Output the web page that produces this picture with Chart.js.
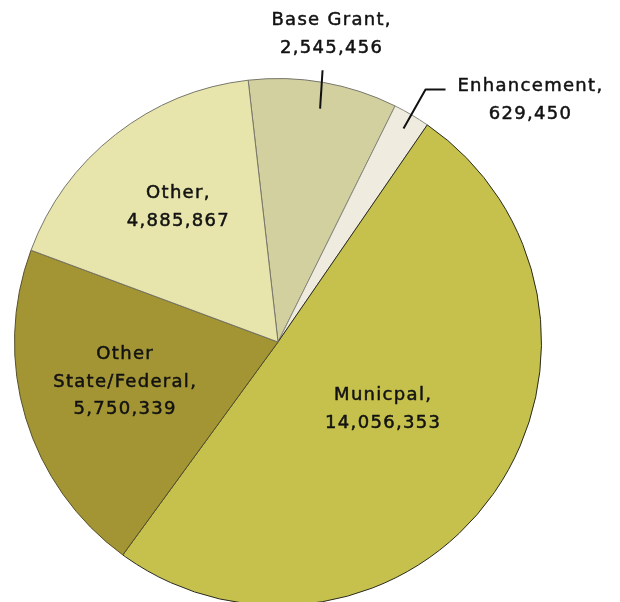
<!DOCTYPE html>
<html>
<head>
<meta charset="utf-8">
<script src="https://cdn.jsdelivr.net/npm/chart.js@4.4.1/dist/chart.umd.min.js"></script>
<style>
  html, body { margin: 0; padding: 0; background: #fff; }
  #wrap { position: relative; width: 620px; height: 602px; overflow: hidden; }
  #pie { position: absolute; left: 0; top: 0; }
</style>
</head>
<body>
<div id="wrap"><canvas id="pie" width="620" height="620"></canvas></div>
<script>
'use strict';

// --- DADOS ---
const categories = ['Base Grant', 'Enhancement', 'Municpal', 'Other State/Federal', 'Other'];
const values = [2545456, 629450, 14056353, 5750339, 4885867];
const sliceColors = ['#d3d0a0', '#efecdf', '#c5c14c', '#a39533', '#e8e5ac'];
const labelLines = [
    ['Base Grant,', '2,545,456'],
    ['Enhancement,', '629,450'],
    ['Municpal,', '14,056,353'],
    ['Other', 'State/Federal,', '5,750,339'],
    ['Other,', '4,885,867']
];

const FONT = '18px "DejaVu Sans", sans-serif';
const LINE_H = 27.5;

// posição do texto em frações do raio, relativa ao centro
const labelAt = [[0.2035, -1.167], [0.958, -0.918], [0.399, 0.256], [-0.58, 0.153], [-0.378, -0.511]];

// --- ETIQUETAS ---
const sliceLabels = {
    id: 'sliceLabels',
    afterDatasetsDraw(chart) {
        const ctx = chart.ctx;
        const arcs = chart.getDatasetMeta(0).data;
        ctx.save();
        ctx.font = FONT;
        ctx.letterSpacing = '1.3px';
        ctx.fillStyle = '#121212';
        ctx.textAlign = 'center';
        ctx.textBaseline = 'middle';
        ctx.lineJoin = 'round';

        const polar = (arc, ang, f) => ({
            x: arc.x + Math.cos(ang) * arc.outerRadius * f,
            y: arc.y + Math.sin(ang) * arc.outerRadius * f
        });
        const block = (lines, cx, cy) => {
            const top = cy - (lines.length - 1) * LINE_H / 2;
            ctx.strokeStyle = '#121212';
            ctx.lineWidth = 0.5;
            lines.forEach((t, i) => {
                ctx.fillText(t, cx, top + i * LINE_H);
                ctx.strokeText(t, cx, top + i * LINE_H);
            });
        };

        arcs.forEach((arc, i) => {
            const mid = (arc.startAngle + arc.endAngle) / 2;
            ctx.strokeStyle = '#111';
            ctx.lineWidth = 2;
            if (i === 0) {
                // Base Grant: linha radial para fora
                const a = polar(arc, mid + 0.005, 0.9), b = polar(arc, mid - 0.011, 1.045);
                ctx.beginPath(); ctx.moveTo(a.x, a.y); ctx.lineTo(b.x, b.y); ctx.stroke();
            } else if (i === 1) {
                // Enhancement: linha com cotovelo
                const a = polar(arc, mid, 0.94);
                const ex = a.x + 22, ey = a.y - 39;
                ctx.beginPath(); ctx.moveTo(a.x, a.y); ctx.lineTo(ex, ey); ctx.lineTo(ex + 20, ey); ctx.stroke();
            }
            const r = arc.outerRadius;
            block(labelLines[i], arc.x + labelAt[i][0] * r, arc.y + labelAt[i][1] * r);
        });
        ctx.restore();
    }
};

// --- GRÁFICO ---
new Chart(document.getElementById('pie').getContext('2d'), {
    type: 'pie',
    data: {
        labels: categories,
        datasets: [{
            data: values,
            backgroundColor: sliceColors,
            borderColor: ['#77766a', '#8a897f', '#2a2a20', '#55502a', '#77766a'],
            borderWidth: 1,
            hoverOffset: 0
        }]
    },
    options: {
        responsive: false,
        animation: false,
        rotation: -6.5,
        layout: { padding: { left: 14, right: 78, top: 78, bottom: 14 } },
        plugins: { legend: { display: false }, tooltip: { enabled: false } }
    },
    plugins: [sliceLabels]
});
</script>
</body>
</html>
